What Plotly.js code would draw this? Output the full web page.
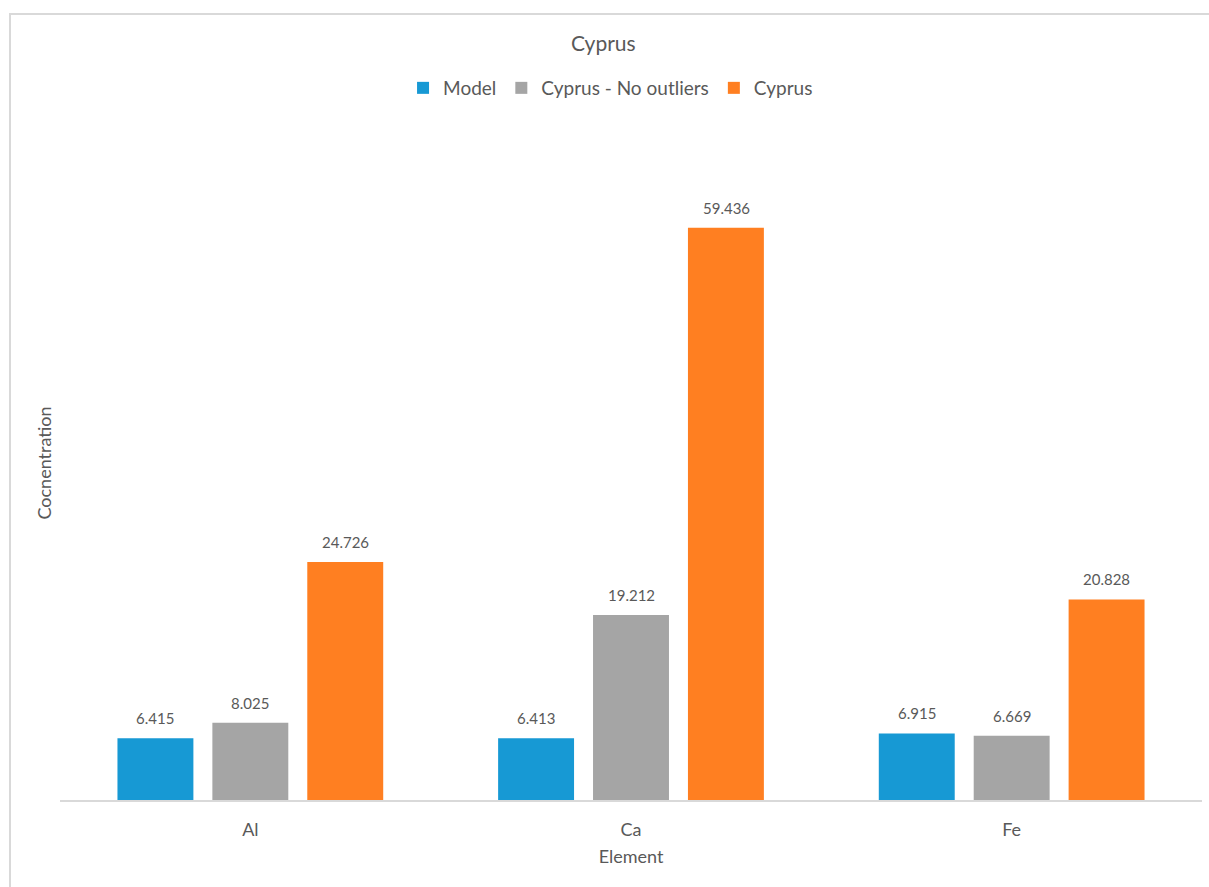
<!DOCTYPE html>
<html>
<head>
<meta charset="utf-8">
<script src="https://cdn.plot.ly/plotly-3.0.1.min.js"></script>
<style>
  html, body { margin: 0; padding: 0; background: #fff; }
  #wrap { position: relative; width: 1209px; height: 887px; overflow: hidden; }
  #frame { position: absolute; left: 9px; top: 13px; width: 1215px; height: 900px; border: 2px solid #d9d9d9; box-sizing: border-box; pointer-events: none; }
  #chart { position: absolute; left: 0; top: 0; width: 1209px; height: 887px; }
</style>
</head>
<body>
<div id="wrap">
  <div id="chart"></div>
  <div id="frame"></div>
</div>
<script>
const categories = ["Al", "Ca", "Fe"];
const modelValues = [6.415, 6.413, 6.915];
const noOutlierValues = [8.025, 19.212, 6.669];
const cyprusValues = [24.726, 59.436, 20.828];
const seriesNames = ["Model", "Cyprus - No outliers", "Cyprus"];
const seriesColors = ["#1799d4", "#a5a5a5", "#ff7f21"];

const font = "Lato, 'Open Sans', sans-serif";
const seriesValues = [modelValues, noOutlierValues, cyprusValues];
const slotShift = [-95, 0, 95];

const traces = seriesValues.map((vals, i) => ({
  type: "bar",
  name: seriesNames[i],
  x: categories,
  y: vals,
  marker: { color: seriesColors[i] },
  hoverinfo: "x+y+name"
}));

const annotations = [];
seriesValues.forEach((vals, i) => {
  vals.forEach((v, j) => {
    annotations.push({
      x: categories[j], y: v, xref: "x", yref: "y",
      text: v.toFixed(3), showarrow: false,
      xshift: slotShift[i], yanchor: "bottom", yshift: 9,
      font: { family: font, size: 15, color: "#595959" }
    });
  });
});

const layout = {
  width: 1209,
  height: 887,
  paper_bgcolor: "#ffffff",
  plot_bgcolor: "#ffffff",
  margin: { l: 60, r: 7, t: 126, b: 87 },
  barmode: "group",
  bargap: 0.252,
  bargroupgap: 0.2,
  font: { family: font, color: "#595959" },
  annotations: annotations,
  title: {
    text: "Cyprus",
    font: { family: font, size: 21, color: "#595959" },
    x: 0.499, xanchor: "center",
    y: 1 - 44 / 887, yanchor: "middle", yref: "container"
  },
  showlegend: true,
  legend: {
    orientation: "h",
    x: 0.505, xanchor: "center", xref: "container",
    y: 1 - 88 / 887, yref: "container", yanchor: "middle",
    font: { family: font, size: 19, color: "#595959" },
    itemwidth: 30,
    traceorder: "normal"
  },
  xaxis: {
    type: "category",
    showline: true,
    linecolor: "#d9d9d9",
    linewidth: 2,
    showgrid: false,
    ticks: "",
    ticklabelstandoff: 12,
    tickfont: { family: font, size: 18, color: "#595959" },
    title: { text: "Element", font: { family: font, size: 18, color: "#595959" }, standoff: 12 }
  },
  yaxis: {
    range: [0, 70],
    showgrid: false,
    zeroline: false,
    showline: false,
    showticklabels: false,
    ticks: "",
    title: { text: "Cocnentration", font: { family: font, size: 18, color: "#595959" }, standoff: 2 }
  }
};

Plotly.newPlot("chart", traces, layout, { displayModeBar: false, staticPlot: true });
</script>
</body>
</html>
